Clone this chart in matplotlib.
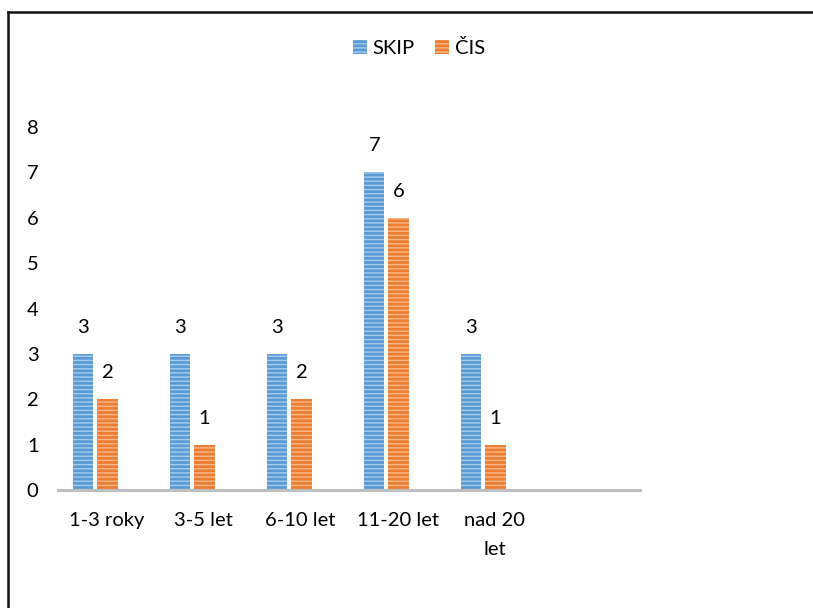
import matplotlib.pyplot as plt
import numpy as np
from matplotlib.lines import Line2D

plt.rcParams['font.family'] = ['Lato', 'DejaVu Sans']
plt.rcParams['hatch.linewidth'] = 1.0

#------------------------------------------------
categories = ['1-3 roky', '3-5 let', '6-10 let', '11-20 let', 'nad 20\nlet']
skip = [3, 3, 3, 7, 3]
cis = [2, 1, 2, 6, 1]
series_names = ['SKIP', 'ČIS']
#------------------------------------------------

blue = '#5B9BD5'
blue_l = '#A9CBEA'
orange = '#ED7D31'
orange_l = '#F6B98E'
fs = 14.5

fig = plt.figure(figsize=(8.13, 6.08), dpi=100)
ax = fig.add_axes([58/813, 1-490/608, (640-58)/813, (490-127)/608])

x = np.arange(len(categories))
w = 0.207
b1 = ax.bar(x - 0.238, skip, w, color=blue, edgecolor=blue_l, linewidth=0,
            hatch='----', label=series_names[0])
b2 = ax.bar(x + 0.01, cis, w, color=orange, edgecolor=orange_l, linewidth=0,
            hatch='----', label=series_names[1])

for bars, vals in [(b1, skip), (b2, cis)]:
    for r, v in zip(bars, vals):
        ax.annotate(str(v), (r.get_x() + r.get_width()/2, v),
                    xytext=(0, 19), textcoords='offset points',
                    ha='center', va='center', fontsize=fs, clip_on=False)

ax.set_xlim(-0.5, 5.5)
ax.set_ylim(0, 8)
ax.set_yticks(range(0, 9))
ax.set_xticks(x)
ax.set_xticklabels(categories, fontsize=fs, linespacing=1.85)
ax.tick_params(axis='y', length=0, pad=14, labelsize=fs)
ax.tick_params(axis='x', length=0, pad=16)
for s in ['top', 'right', 'left']:
    ax.spines[s].set_visible(False)
ax.spines['bottom'].set_color('#BFBFBF')
ax.spines['bottom'].set_linewidth(2.2)

fig.legend(loc='center', bbox_to_anchor=(419/813, 1-48/608), ncol=2,
           frameon=False, fontsize=fs, handlelength=0.7, handleheight=0.7,
           handletextpad=0.3, columnspacing=1.0)

# border of the chart area
fig.add_artist(Line2D([8/813, 1.0], [1-12/608, 1-12/608], color='#111111', lw=1.8))
fig.add_artist(Line2D([8/813, 8/813], [1-12/608, 0.0], color='#111111', lw=1.8))

fig.savefig('out.png', dpi=100)
